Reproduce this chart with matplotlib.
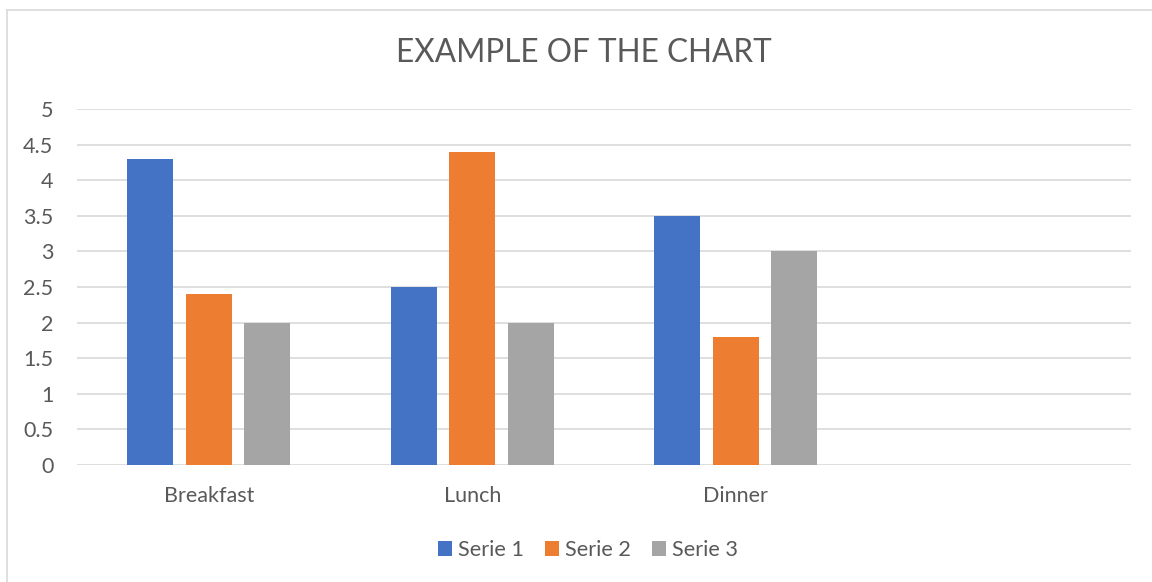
import matplotlib
matplotlib.use("Agg")
import matplotlib.pyplot as plt
import numpy as np

# chart data
categories = ["Breakfast", "Lunch", "Dinner", ""]
serie1 = [4.3, 2.5, 3.5]
serie2 = [2.4, 4.4, 1.8]
serie3 = [2.0, 2.0, 3.0]
series_names = ["Serie 1", "Serie 2", "Serie 3"]
colors = ["#4472C4", "#ED7D31", "#A5A5A5"]
yticks = [0, 0.5, 1, 1.5, 2, 2.5, 3, 3.5, 4, 4.5, 5]

plt.rcParams['font.family'] = ['Lato', 'DejaVu Sans']
text_col = "#595959"

fig = plt.figure(figsize=(11.52, 5.82), dpi=100)
ax = fig.add_axes([77/1152, 117/582, (1131-77)/1152, 356/582])

# frame around the chart (only left/top visible in the source)
fig.add_artist(plt.Line2D([7/1152, 7/1152], [0, 1-10/582], color="#D9D9D9", lw=1.2))
fig.add_artist(plt.Line2D([7/1152, 1], [1-10/582, 1-10/582], color="#D9D9D9", lw=1.2))

x = np.arange(len(serie1))
w = 0.175
step = 0.222
for i, (vals, name) in enumerate(zip([serie1, serie2, serie3], series_names)):
    ax.bar(x + (i-1)*step, vals, w, color=colors[i], label=name, zorder=3)

ax.set_xlim(-0.5, 3.5)
ax.set_ylim(0, 5)
ax.set_yticks(yticks)
ax.set_yticklabels([f"{t:g}" for t in yticks])
ax.set_xticks(np.arange(len(categories)))
ax.set_xticklabels(categories)
ax.yaxis.grid(True, color="#D9D9D9", lw=1.2, zorder=0)
ax.tick_params(axis="both", length=0, colors=text_col, labelsize=15.5)
ax.tick_params(axis="y", pad=17)
ax.tick_params(axis="x", pad=15)
for s in ax.spines.values():
    s.set_visible(False)

fig.text(584/1152, 1-53/582, "EXAMPLE OF THE CHART", ha="center", va="center",
         fontsize=22.7, color=text_col)

ax.legend(loc="center", bbox_to_anchor=(588/1152, 1-550/582), bbox_transform=fig.transFigure,
          ncol=3, frameon=False, fontsize=15.6, labelcolor=text_col,
          handlelength=0.65, handleheight=0.65, handletextpad=0.3, columnspacing=0.95)

fig.savefig("out.png", dpi=100, facecolor="white")
